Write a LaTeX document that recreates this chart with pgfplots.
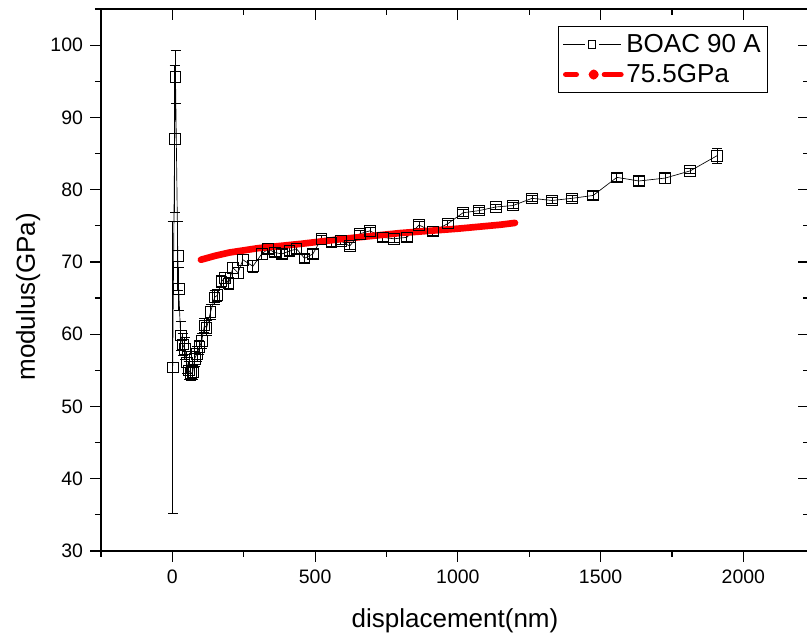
\documentclass[border=0pt]{standalone}
\usepackage{pgfplots}
\pgfplotsset{compat=1.18}
\usepackage{pgfplotstable}
\usepackage{fontspec}
\setmainfont{Liberation Sans}

\pgfplotstableread{
x y e
1 55.4 20.2
8 87.0 10.2
11 95.6 3.7
19 70.8 4.8
22 66.3 3.0
29 59.8 2.0
36 58.6 1.5
43 58.0 1.5
50 56.1 1.5
57 55.0 1.2
64 54.6 1.0
71 54.7 1.0
78 56.6 1.0
86 57.3 1.0
95 58.2 1.0
103 59.1 1.0
112 61.2 1.0
120 60.9 1.0
134 63.1 1.0
148 65.1 1.0
158 65.4 0.8
172 67.3 0.8
185 67.8 0.8
197 67.0 0.8
212 69.2 0.8
230 68.5 0.8
247 70.3 0.8
282 69.4 0.8
313 71.1 0.8
335 71.8 0.6
359 71.3 0.6
383 71.1 0.6
410 71.5 0.6
435 71.8 0.6
463 70.5 0.6
492 71.1 0.6
522 73.2 0.5
557 72.7 0.5
590 72.9 0.5
621 72.2 0.5
657 73.9 0.5
692 74.3 0.5
737 73.4 0.6
776 73.2 0.5
821 73.4 0.5
864 75.1 0.5
912 74.2 0.5
965 75.3 0.5
1018 76.8 0.5
1074 77.1 0.4
1133 77.6 0.4
1193 77.8 0.4
1260 78.8 0.4
1330 78.5 0.4
1400 78.8 0.4
1474 79.2 0.5
1557 81.7 0.6
1634 81.2 0.6
1726 81.6 0.7
1814 82.6 0.4
1908 84.7 1.0
}\boac

\pgfplotstableread{
x y
100 70.3
150 70.85
200 71.3
300 71.9
450 72.5
600 73.2
800 74.0
1000 74.6
1150 75.15
1200 75.4
}\fit

\begin{document}
\begin{tikzpicture}
\pgfplotsset{
  common/.style={
    scale only axis,
    width=531pt, height=406.5pt,
    xmin=-250, xmax=2230, ymin=30, ymax=105,
    xtick={0,500,1000,1500,2000},
    minor xtick={-250,250,750,1250,1750,2250},
    ytick={30,40,50,60,70,80,90,100},
    minor ytick={35,45,55,65,75,85,95,105},
    major tick length=8pt, minor tick length=4.5pt,
    every tick/.style={black, line width=0.9pt},
    axis line style={line width=1.3pt},
  }
}
\begin{axis}[common,
  name=main,
  tick align=outside,
  xtick pos=bottom, ytick pos=left,
  /pgf/number format/assume math mode=true,
  /pgf/number format/1000 sep={},
  ticklabel style={font=\fontsize{14.6}{17}\selectfont},
  xticklabel style={yshift=-3pt},
  yticklabel style={xshift=-2pt},
  xlabel={displacement(nm)},
  ylabel={modulus(GPa)},
  label style={font=\fontsize{19.5}{23}\selectfont},
  xlabel style={at={([yshift=-57.75pt]axis description cs:0.5,0)}, anchor=base},
  ylabel style={at={([xshift=-49.5pt]axis description cs:0,0.469)}, anchor=base},
  legend style={at={(axis description cs:0.942,0.969)}, anchor=north east,
    draw=black, line width=0.8pt, font=\fontsize{19.5}{22}\selectfont,
    inner xsep=3pt, inner ysep=4pt, row sep=3.5pt, cells={anchor=west}},
]
\addplot[black, line width=0.5pt, mark=square, mark size=4pt,
  mark options={solid, line width=0.7pt, fill=none},
  legend image code/.code={
    \draw[black, line width=0.5pt] (0pt,0pt)--(16.5pt,0pt);
    \draw[black, line width=0.5pt] (27pt,0pt)--(43.5pt,0pt);
    \draw[black, line width=0.7pt] (19pt,-2.7pt) rectangle (24.5pt,2.7pt);
  },
  error bars/.cd, y dir=both, y explicit,
  error bar style={line width=0.6pt},
  error mark options={rotate=90, mark size=3.75pt, line width=0.6pt}]
  table[x=x, y=y, y error=e] {\boac};
\addlegendentry{BOAC 90 A}
\addplot[red, line width=5pt, line cap=round, line join=round,
  legend image code/.code={
    \draw[red, line width=4pt, line cap=round] (2pt,0pt)--(10pt,0pt);
    \fill[red] (23pt,0pt) circle (1.3pt);
    \draw[red, line width=4pt, line cap=round] (31pt,0pt)--(43.5pt,0pt);
  }]
  table[x=x, y=y] {\fit};
\addlegendentry{75.5GPa}
\end{axis}
\begin{axis}[common,
  tick align=inside,
  xtick pos=top, ytick pos=right,
  xticklabels={}, yticklabels={},
  axis line style={draw=none},
]
\end{axis}
\pgfresetboundingbox
\path ([xshift=-75.75pt, yshift=-66pt]main.south west) rectangle ([xshift=-1.5pt, yshift=6.75pt]main.north east);
\end{tikzpicture}
\end{document}
